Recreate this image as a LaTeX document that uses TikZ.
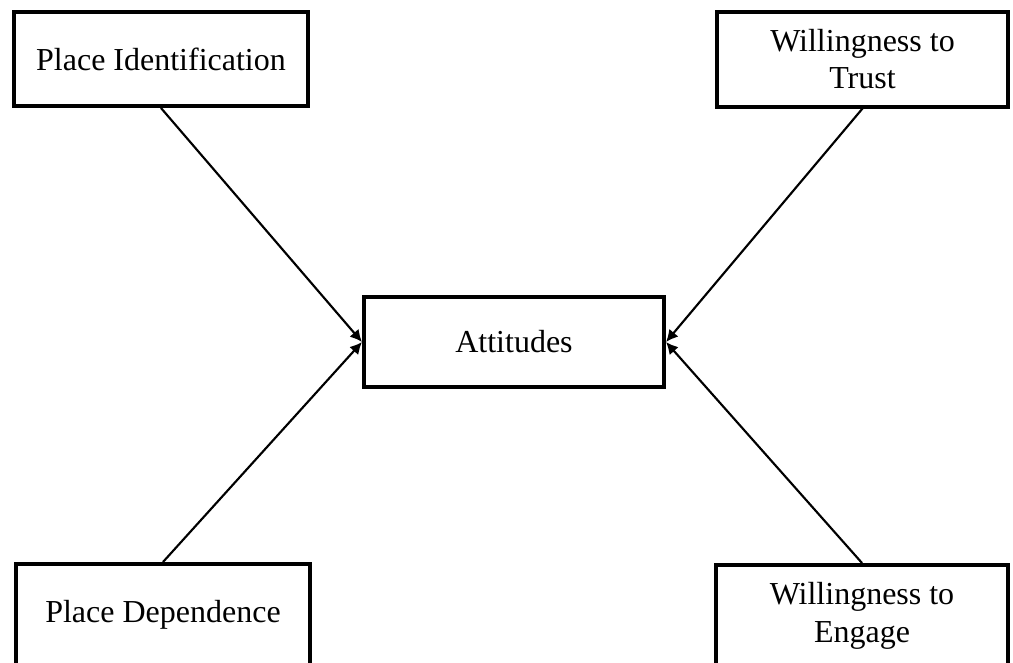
\documentclass[tikz,border=0pt]{standalone}
\usepackage{fontspec}
\setmainfont{Liberation Serif}
\usetikzlibrary{arrows.meta}
\begin{document}
\begin{tikzpicture}[x=0.75pt,y=-0.75pt,
  box/.style={draw, line width=3pt, inner sep=0pt, align=center,
    font=\fontsize{24}{28}\selectfont},
  link/.style={line width=1.6pt, -{Latex[length=9pt,width=9pt]}}]
  \useasboundingbox (0,0) rectangle (1013,662);
  \begin{scope}
    \clip (0,0) rectangle (1013,662);
    \node[box, minimum width=294*0.75pt, minimum height=94*0.75pt] (pi) at (161,59) {Place Identification};
    \node[box, minimum width=291*0.75pt, minimum height=95*0.75pt] (wt) at (862.5,59) {Willingness to\\Trust};
    \node[box, minimum width=294*0.75pt, minimum height=102*0.75pt] (pd) at (163,615) {Place Dependence};
    \node[box, minimum width=292*0.75pt, minimum height=102*0.75pt] (we) at (862,616) {Willingness to\\Engage};
    \node[box, minimum width=300*0.75pt, minimum height=90*0.75pt] (att) at (514,342) {Attitudes};
  \end{scope}
  \draw[link] (pi.south) -- (att.west);
  \draw[link] (pd.north) -- (att.west);
  \draw[link] (wt.south) -- (att.east);
  \draw[link] (we.north) -- (att.east);
\end{tikzpicture}
\end{document}
